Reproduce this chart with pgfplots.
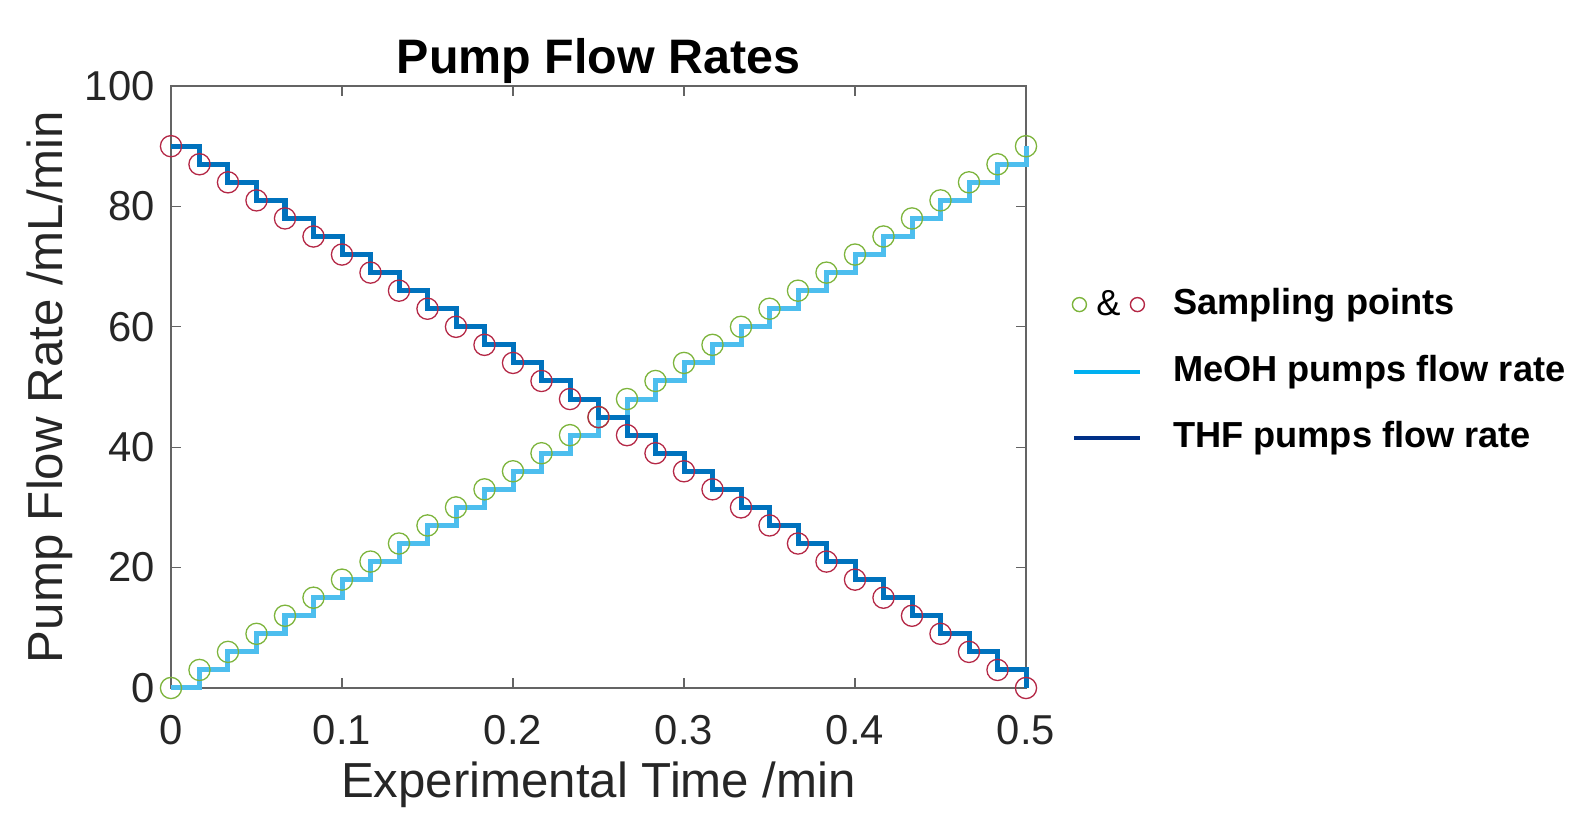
\documentclass[border=0pt]{standalone}
\usepackage{fontspec}
\setmainfont{Liberation Sans}
\usepackage{pgfplots}
\pgfplotsset{compat=1.18}
\usepackage{pgfplotstable}

\definecolor{meohline}{RGB}{77,190,238}
\definecolor{thfline}{RGB}{0,114,189}
\definecolor{meohleg}{RGB}{0,176,240}
\definecolor{thfleg}{RGB}{0,48,135}
\definecolor{sgreen}{RGB}{125,180,60}
\definecolor{sred}{RGB}{180,40,70}
\definecolor{axisgray}{RGB}{100,100,100}
\definecolor{labelgray}{RGB}{38,38,38}

\pgfplotstableread{
t meoh thf
0 0 90
0.0166667 3 87
0.0333333 6 84
0.05 9 81
0.0666667 12 78
0.0833333 15 75
0.1 18 72
0.1166667 21 69
0.1333333 24 66
0.15 27 63
0.1666667 30 60
0.1833333 33 57
0.2 36 54
0.2166667 39 51
0.2333333 42 48
0.25 45 45
0.2666667 48 42
0.2833333 51 39
0.3 54 36
0.3166667 57 33
0.3333333 60 30
0.35 63 27
0.3666667 66 24
0.3833333 69 21
0.4 72 18
0.4166667 75 15
0.4333333 78 12
0.45 81 9
0.4666667 84 6
0.4833333 87 3
0.5 90 0
}\data

\begin{document}
\begin{tikzpicture}
\useasboundingbox (-85.5pt,-70.5pt) rectangle (712pt,344pt);
\begin{axis}[
  at={(0pt,0pt)}, anchor=south west,
  scale only axis, width=427.5pt, height=301pt,
  xmin=0, xmax=0.5, ymin=0, ymax=100,
  xtick={0,0.1,0.2,0.3,0.4,0.5},
  xticklabels={0,0.1,0.2,0.3,0.4,0.5},
  ytick={0,20,40,60,80,100},
  scaled ticks=false,
  tick align=inside,
  major tick length=5pt,
  axis line style={draw=axisgray, line width=0.65pt},
  every tick/.style={draw=axisgray, line width=0.65pt},
  tick label style={font=\fontsize{20.9}{25}\selectfont, text=labelgray},
  /pgf/number format/assume math mode=true,
  xticklabel style={anchor=center, yshift=-21pt},
  yticklabel style={anchor=east, inner sep=0pt, xshift=-8pt},
  xlabel={Experimental Time /min},
  ylabel={Pump Flow Rate /mL/min},
  label style={font=\fontsize{24.6}{29}\selectfont, text=labelgray},
  xlabel style={at={(axis description cs:0.5,-0.161)}, anchor=center},
  ylabel style={at={(axis description cs:-0.142,0.5)}, anchor=center},
  title={Pump Flow Rates},
  title style={font=\fontsize{24.2}{29}\selectfont\bfseries, text=black, at={(axis description cs:0.5,1.022)}, anchor=center},
  clip=false,
  legend style={at={(axis description cs:1.046,0.526)}, anchor=west, draw=none, fill=none,
    font=\fontsize{18.1}{21}\selectfont\bfseries, row sep=16.5pt, column sep=14pt,
    nodes={inner xsep=0pt, inner ysep=0pt, text height=13pt, text depth=3.5pt}},
  legend cell align=left,
]
\addlegendimage{legend image code/.code={
  \draw[sgreen, line width=0.7pt] (3.5pt,0pt) circle (3.5pt);
  \node[font=\fontsize{18.1}{21}\selectfont, text=black, inner sep=0pt, anchor=base] at (18pt,-5.5pt) {\&};
  \draw[sred, line width=0.7pt] (32.5pt,0pt) circle (3.5pt);
}}
\addlegendentry{Sampling points}
\addlegendimage{legend image code/.code={
  \draw[meohleg, line width=2.2pt] (1pt,0pt) -- (34pt,0pt);
  \path (36pt,0pt);
}}
\addlegendentry{MeOH pumps flow rate}
\addlegendimage{legend image code/.code={
  \draw[thfleg, line width=2.2pt] (1pt,0pt) -- (34pt,0pt);
  \path (36pt,0pt);
}}
\addlegendentry{THF pumps flow rate}

\addplot[only marks, mark=o, mark size=5.3pt, mark options={draw=sgreen, line width=0.65pt}, forget plot] table[x=t, y=meoh] {\data};
\addplot[only marks, mark=o, mark size=5.3pt, mark options={draw=sred, line width=0.65pt}, forget plot] table[x=t, y=thf] {\data};
\addplot[const plot mark left, draw=meohline, line width=2.5pt, line join=miter, no marks, forget plot] table[x=t, y=meoh] {\data};
\addplot[const plot mark left, draw=thfline, line width=2.5pt, line join=miter, no marks, forget plot] table[x=t, y=thf] {\data};
\end{axis}
\end{tikzpicture}
\end{document}
